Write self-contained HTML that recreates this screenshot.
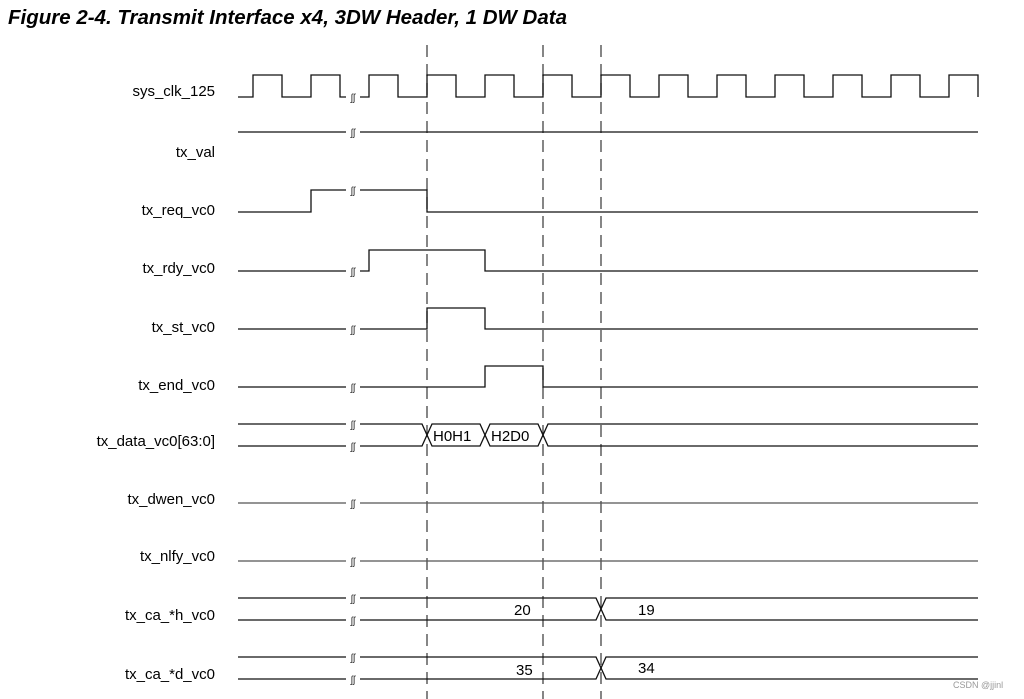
<!DOCTYPE html>
<html><head><meta charset="utf-8"><style>
html,body{margin:0;padding:0;background:#fff;}
svg{display:block}
.t{font-family:"Liberation Sans",sans-serif;font-size:15px;fill:#000}
.b{font-family:"Liberation Sans",sans-serif;font-size:10px;fill:#333}
</style></head><body>
<svg width="1024" height="699" viewBox="0 0 1024 699">
<text x="8" y="24" style="font-family:'Liberation Sans',sans-serif;font-size:20.5px;font-weight:bold;font-style:italic">Figure 2-4. Transmit Interface x4, 3DW Header, 1 DW Data</text>

<g stroke="#444" stroke-width="1.3" stroke-dasharray="12,7">
<line x1="427" y1="45" x2="427" y2="699"/>
<line x1="543" y1="45" x2="543" y2="699"/>
<line x1="601" y1="45" x2="601" y2="699"/>
</g>

<g class="t" text-anchor="end">
<text x="215" y="96">sys_clk_125</text>
<text x="215" y="157">tx_val</text>
<text x="215" y="215">tx_req_vc0</text>
<text x="215" y="273">tx_rdy_vc0</text>
<text x="215" y="332">tx_st_vc0</text>
<text x="215" y="390">tx_end_vc0</text>
<text x="215" y="446">tx_data_vc0[63:0]</text>
<text x="215" y="504">tx_dwen_vc0</text>
<text x="215" y="561">tx_nlfy_vc0</text>
<text x="215" y="620">tx_ca_*h_vc0</text>
<text x="215" y="679">tx_ca_*d_vc0</text>
</g>

<g fill="none" stroke="#111" stroke-width="1.3">
<path d="M238,97 H253 V75 H282 V97 H311 V75 H340 V97 H346 M360,97 H369 V75 H398 V97 H427 V75 H456 V97 H485 V75 H514 V97 H543 V75 H572 V97 H601 V75 H630 V97 H659 V75 H688 V97 H717 V75 H746 V97 H775 V75 H804 V97 H833 V75 H862 V97 H891 V75 H920 V97 H949 V75 H978 V97"/>
<path d="M238,132 H346 M360,132 H978"/>
<path d="M238,212 H311 V190 H346 M360,190 H427 V212 H978"/>
<path d="M238,271 H346 M360,271 H369 V250 H485 V271 H978"/>
<path d="M238,329 H346 M360,329 H427 V308 H485 V329 H978"/>
<path d="M238,387 H346 M360,387 H485 V366 H543 V387 H978"/>
<path d="M238,424 H346 M360,424 H422 L427,435 L432,424 H480 L485,435 L490,424 H538 L543,435 L548,424 H978"/>
<path d="M238,446 H346 M360,446 H422 L427,435 L432,446 H480 L485,435 L490,446 H538 L543,435 L548,446 H978"/>
<path d="M238,503 H346 M360,503 H978" stroke="#555"/>
<path d="M238,561 H346 M360,561 H978" stroke="#555"/>
<path d="M238,598 H346 M360,598 H596 L601,609 L606,598 H978"/>
<path d="M238,620 H346 M360,620 H596 L601,609 L606,620 H978"/>
<path d="M238,657 H346 M360,657 H596 L601,668 L606,657 H978"/>
<path d="M238,679 H346 M360,679 H596 L601,668 L606,679 H978"/>
</g>

<g class="b" text-anchor="middle">
<text x="353" y="101">ʃʃ</text>
<text x="353" y="136">ʃʃ</text>
<text x="353" y="194">ʃʃ</text>
<text x="353" y="275">ʃʃ</text>
<text x="353" y="333">ʃʃ</text>
<text x="353" y="391">ʃʃ</text>
<text x="353" y="428">ʃʃ</text>
<text x="353" y="450">ʃʃ</text>
<text x="353" y="507">ʃʃ</text>
<text x="353" y="565">ʃʃ</text>
<text x="353" y="602">ʃʃ</text>
<text x="353" y="624">ʃʃ</text>
<text x="353" y="661">ʃʃ</text>
<text x="353" y="683">ʃʃ</text>
</g>

<g class="t">
<text x="433" y="441">H0H1</text>
<text x="491" y="441">H2D0</text>
<text x="514" y="615">20</text>
<text x="638" y="615">19</text>
<text x="516" y="675">35</text>
<text x="638" y="673">34</text>
</g>
<text x="953" y="688" style="font-family:'Liberation Sans',sans-serif;font-size:9px;fill:#999">CSDN @jjinl</text>
</svg>
</body></html>
